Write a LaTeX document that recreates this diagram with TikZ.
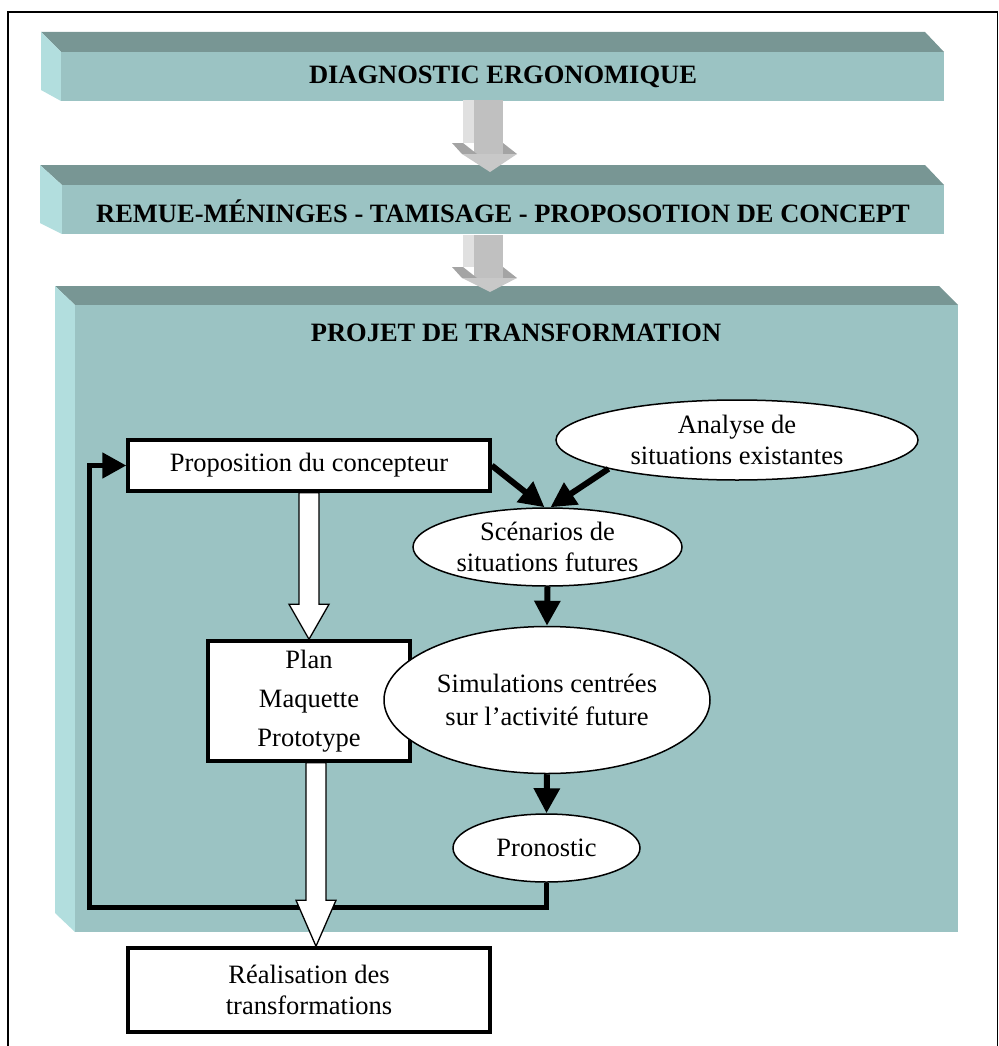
\documentclass[tikz,border=0pt]{standalone}
\usepackage{fontspec}
\setmainfont{Liberation Serif}
\usetikzlibrary{arrows.meta,shapes.geometric,calc}
\definecolor{frontf}{RGB}{155,195,195}
\definecolor{topf}{RGB}{120,150,148}
\definecolor{sidef}{RGB}{178,222,222}
\definecolor{gA}{RGB}{224,224,224}
\definecolor{gB}{RGB}{192,192,192}
\definecolor{gC}{RGB}{164,164,164}
\definecolor{gD}{RGB}{200,200,200}
\newcommand\grayarr[3]{% top, head top, tip
  \fill[gB] (474,#1) rectangle (503,{#2+11});
  \fill[gA] (463,#1) rectangle (474,#2);
  \fill[gC] (452,#2) -- (463,#2) -- (477,{#2+11}) -- (462,{#2+11}) -- cycle;
  \fill[gC] (503,#2) -- (517,{#2+11}) -- (503,{#2+11}) -- cycle;
  \fill[gD] (462,{#2+11}) -- (517,{#2+11}) -- (490,#3) -- cycle;
}
\begin{document}
\begin{tikzpicture}[x=1pt,y=-1pt,
  txt/.style={font=\fontsize{26.5}{31}\selectfont, align=center},
  btxt/.style={font=\fontsize{26.5}{31}\selectfont\bfseries, inner sep=0pt},
  box/.style={draw, line width=3.5pt, fill=white, inner sep=0pt, txt},
  ell/.style={ellipse, draw, line width=1.5pt, fill=white, inner sep=0pt, txt},
  blk/.style={line width=6pt, -{Triangle[width=25pt,length=25pt]}},
  loopline/.style={line width=5pt, line join=miter, -{Triangle[width=25pt,length=24pt]}},
  hollow/.style={fill=white, draw=black, line width=1.3pt, line join=miter}]

\useasboundingbox (0,0) rectangle (998,1046);
\draw[line width=1.3pt] (8,1050) -- (8,12) -- (997.5,12) -- (997.5,1050);

% banner 1
\fill[topf] (41,32) -- (925,32) -- (944,52) -- (61,52) -- cycle;
\fill[sidef] (41,32) -- (61,52) -- (61,101) -- (41,90) -- cycle;
\fill[frontf] (61,52) rectangle (944,101);
% banner 2
\fill[topf] (40,165) -- (925,165) -- (944,185) -- (62,185) -- cycle;
\fill[sidef] (40,165) -- (62,185) -- (62,234) -- (40,223) -- cycle;
\fill[frontf] (62,185) rectangle (944,234);
% big box
\fill[topf] (55,286) -- (939,286) -- (958,305) -- (75,305) -- cycle;
\fill[sidef] (55,286) -- (75,305) -- (75,932) -- (55,913) -- cycle;
\fill[frontf] (75,305) rectangle (958,932);

% gray arrows
\grayarr{100}{143}{172}
\grayarr{235}{267}{292}

\node[btxt] (b1) at (503,77) {DIAGNOSTIC ERGONOMIQUE};
\node[btxt] (b2) at (503,211) {REMUE-MÉNINGES - TAMISAGE - PROPOSOTION DE CONCEPT};
\node[btxt] (title) at (516,333) {PROJET DE TRANSFORMATION};

\node[box, minimum width=362pt, minimum height=51pt] (prop) at (309,465.5) {Proposition du concepteur};
\node[box, minimum width=202pt, minimum height=120pt, font=\fontsize{26.5}{39}\selectfont] (plan) at (309,701) {Plan\\Maquette\\Prototype};
\node[box, minimum width=362pt, minimum height=84pt] (real) at (309,990) {Réalisation des\\transformations};

\node[ell, minimum width=362pt, minimum height=80pt] (analyse) at (737,440) {Analyse de\\situations existantes};
\node[ell, minimum width=269pt, minimum height=78pt] (scen) at (547.5,547) {Scénarios de\\situations futures};
\node[ell, minimum width=326pt, minimum height=147pt, font=\fontsize{26.5}{33}\selectfont] (simu) at (547,700) {Simulations centrées\\sur l’activité future};
\node[ell, minimum width=187pt, minimum height=68pt] (prono) at (546.5,848) {Pronostic};

% feedback loop
\coordinate (fbl) at (89,907);
\draw[loopline] (prono.south) |- (fbl) |- (prop.west);

% black arrows
\draw[blk] (prop.east) -- ($(scen.north)+(-3,0)$);
\draw[blk] (analyse.south west) -- ($(scen.north)+(3,0)$);
\draw[blk] (scen.south) -- (simu.north);
\draw[blk] (simu.south) -- (prono.north);

% hollow arrows
\coordinate (pa) at (prop.south);
\coordinate (pb) at (plan.north);
\draw[hollow] ($(pa)+(-10,0)$) -- ($(pb)+(-10,-35)$) -- ($(pb)+(-20,-35)$) -- (pb)
  -- ($(pb)+(20,-35)$) -- ($(pb)+(10,-35)$) -- ($(pa)+(10,0)$) -- cycle;
\coordinate (qa) at ($(plan.south)+(7,0)$);
\coordinate (qb) at ($(real.north)+(7,0)$);
\draw[hollow] ($(qa)+(-10,0)$) -- ($(qb)+(-10,-46)$) -- ($(qb)+(-20,-46)$) -- (qb)
  -- ($(qb)+(20,-46)$) -- ($(qb)+(10,-46)$) -- ($(qa)+(10,0)$) -- cycle;
\end{tikzpicture}
\end{document}
